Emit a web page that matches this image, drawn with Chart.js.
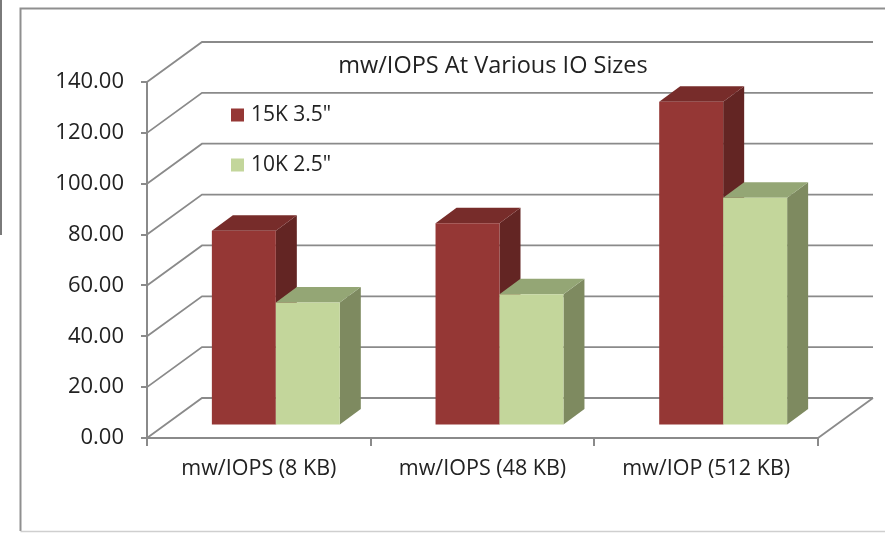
<!DOCTYPE html>
<html>
<head>
<meta charset="utf-8">
<script src="https://cdn.jsdelivr.net/npm/chart.js@4"></script>
<style>
html, body { margin: 0; padding: 0; background: #fff; }
#wrap { position: relative; width: 885px; height: 533px; }
</style>
</head>
<body>
<div id="wrap"><canvas id="chart"></canvas></div>
<script>
const categories = ["mw/IOPS (8 KB)", "mw/IOPS (48 KB)", "mw/IOP (512 KB)"];
const series15k = [76.6, 79.6, 127.4];
const series10k = [48.4, 51.7, 89.6];
const seriesNames = ['15K 3.5"', '10K 2.5"'];
const yTicks = [0, 20, 40, 60, 80, 100, 120, 140];
const chartTitle = "mw/IOPS At Various IO Sizes";

const FONT = '"Open Sans", "Liberation Sans", sans-serif';
const TEXT = "#222";
const GRID = "#8a8a8a";
const DEPTH = { x: 55, y: -40 };       // side wall / floor depth
const BAR_SHIFT = { x: 17, y: -12.4 }; // bars stand a bit behind the front plane
const BAR_DEPTH = { x: 21, y: -15.5 };
const colors = [
    { front: "#953735", top: "#772c2a", side: "#632523" },
    { front: "#c3d69b", top: "#94a675", side: "#7e8a60" },
];

function poly(ctx, pts, fill) {
    ctx.beginPath();
    ctx.moveTo(pts[0][0], pts[0][1]);
    for (let i = 1; i < pts.length; i++) ctx.lineTo(pts[i][0], pts[i][1]);
    ctx.closePath();
    ctx.fillStyle = fill;
    ctx.fill();
}

const excel3d = {
    id: "excel3d",
    beforeDraw(chart) {
        const ctx = chart.ctx;
        ctx.save();
        // outer chart frame
        ctx.strokeStyle = "#8f8f8f";
        ctx.lineWidth = 2;
        ctx.beginPath();
        ctx.moveTo(885, 8.5);
        ctx.lineTo(20.5, 8.5);
        ctx.lineTo(20.5, 531);
        ctx.stroke();
        ctx.strokeStyle = "#cfcfcf";
        ctx.lineWidth = 1.5;
        ctx.beginPath();
        ctx.moveTo(20.5, 531.5);
        ctx.lineTo(885, 531.5);
        ctx.stroke();
        // stray edge line at far left
        ctx.strokeStyle = "#7a7a7a";
        ctx.lineWidth = 2;
        ctx.beginPath();
        ctx.moveTo(1, 0);
        ctx.lineTo(1, 235);
        ctx.stroke();
        ctx.restore();
    },
    beforeDatasetsDraw(chart) {
        const { ctx, chartArea, scales } = chart;
        const y = scales.y;
        const left = chartArea.left, right = chartArea.right;
        ctx.save();
        ctx.strokeStyle = GRID;
        ctx.lineWidth = 1.8;
        y.ticks.forEach(t => {
            const py = y.getPixelForValue(t.value);
            ctx.beginPath();
            ctx.moveTo(left, py);
            ctx.lineTo(left + DEPTH.x, py + DEPTH.y);
            ctx.lineTo(right + DEPTH.x, py + DEPTH.y);
            ctx.stroke();
        });
        // right edge of floor
        const py0 = y.getPixelForValue(0);
        ctx.beginPath();
        ctx.moveTo(right, py0);
        ctx.lineTo(right + DEPTH.x, py0 + DEPTH.y);
        ctx.stroke();
        ctx.restore();
    },
    afterDatasetsDraw(chart) {
        const ctx = chart.ctx;
        ctx.save();
        chart.data.datasets.forEach((ds, di) => {
            const meta = chart.getDatasetMeta(di);
            const c = colors[di];
            meta.data.forEach(bar => {
                const p = bar.getProps(["x", "y", "base", "width"], true);
                const l = p.x - p.width / 2 + BAR_SHIFT.x;
                const r = p.x + p.width / 2 + BAR_SHIFT.x;
                const t = p.y + BAR_SHIFT.y;
                const b = p.base + BAR_SHIFT.y;
                const dx = BAR_DEPTH.x, dy = BAR_DEPTH.y;
                poly(ctx, [[r, t], [r + dx, t + dy], [r + dx, b + dy], [r, b]], c.side);
                poly(ctx, [[l, t], [l + dx, t + dy], [r + dx, t + dy], [r, t]], c.top);
                poly(ctx, [[l, t], [r, t], [r, b], [l, b]], c.front);
            });
        });
        ctx.restore();
    },
    afterDraw(chart) {
        const ctx = chart.ctx;
        ctx.save();
        ctx.fillStyle = TEXT;
        ctx.textBaseline = "middle";
        ctx.textAlign = "center";
        ctx.font = "23.5px " + FONT;
        ctx.fillText(chartTitle, 493, 66);
        ctx.textAlign = "left";
        ctx.font = "21px " + FONT;
        seriesNames.forEach((name, i) => {
            const yy = 115 + i * 50;
            ctx.fillStyle = colors[i].front;
            ctx.fillRect(231, yy - 6.5, 13, 13);
            ctx.fillStyle = TEXT;
            ctx.fillText(name, 251, yy);
        });
        ctx.restore();
    }
};

new Chart(document.getElementById("chart"), {
    type: "bar",
    data: {
        labels: categories,
        datasets: [
            { label: seriesNames[0], data: series15k, backgroundColor: "rgba(0,0,0,0)" },
            { label: seriesNames[1], data: series10k, backgroundColor: "rgba(0,0,0,0)" },
        ],
    },
    options: {
        responsive: true,
        maintainAspectRatio: false,
        animation: false,
        categoryPercentage: 0.572,
        barPercentage: 1,
        layout: { padding: { top: 82, right: 67, bottom: 0, left: 0 } },
        plugins: { legend: { display: false }, title: { display: false }, tooltip: { enabled: false } },
        scales: {
            x: {
                afterFit(scale) { scale.height = 95; },
                grid: { display: true, drawOnChartArea: false, drawTicks: true, tickLength: 8, color: GRID, lineWidth: 2, offset: true },
                border: { display: true, color: GRID, width: 2 },
                ticks: { color: TEXT, font: { family: FONT, size: 21.5 }, padding: 10, maxRotation: 0, autoSkip: false },
            },
            y: {
                min: 0,
                max: 140,
                afterFit(scale) { scale.width = 147; },
                afterBuildTicks(scale) { scale.ticks = yTicks.map(v => ({ value: v })); },
                grid: { display: true, drawOnChartArea: false, drawTicks: true, tickLength: 6, color: GRID, lineWidth: 2 },
                border: { display: true, color: GRID, width: 2 },
                ticks: { color: TEXT, font: { family: FONT, size: 22 }, padding: 17, callback: v => v.toFixed(2) },
            },
        },
    },
    plugins: [excel3d],
});
</script>
</body>
</html>
